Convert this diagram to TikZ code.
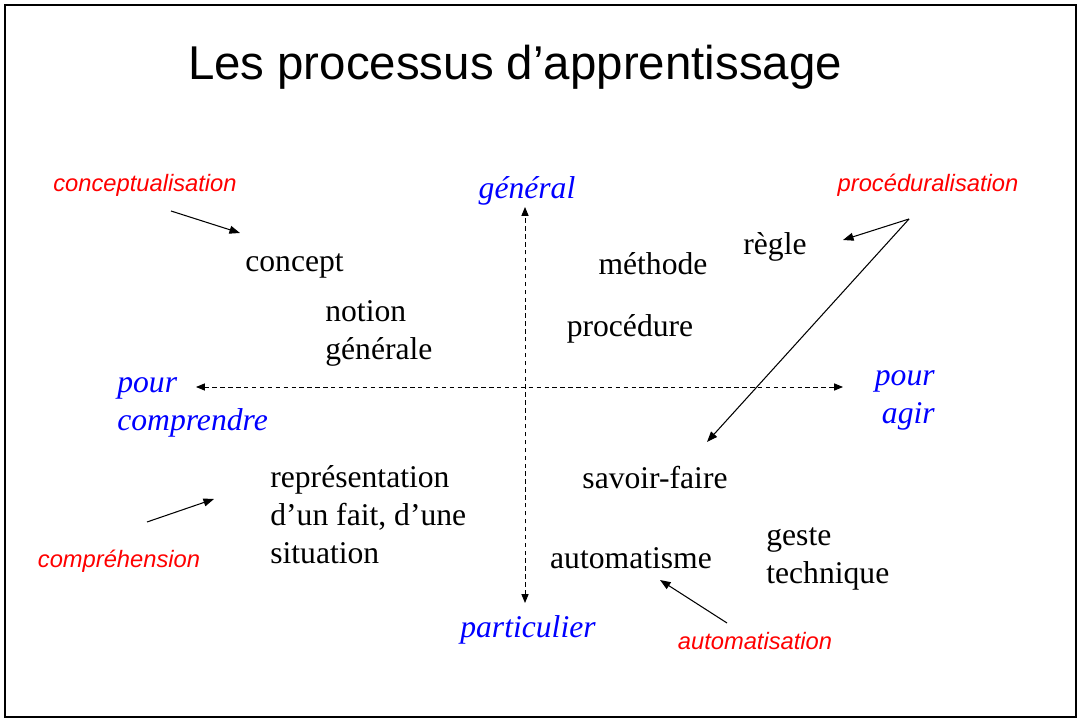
\documentclass[tikz,border=0pt]{standalone}
\usepackage{fontspec}
\setmainfont{Liberation Serif}
\setsansfont{Liberation Sans}
\usetikzlibrary{arrows.meta, positioning}

\begin{document}
\begin{tikzpicture}[
  x=0.02cm, y=-0.02cm,
  term/.style={font=\fontsize{18}{21.6}\selectfont, inner sep=0pt, align=left},
  pole/.style={font=\fontsize{18}{21.6}\selectfont\itshape, text=blue, inner sep=0pt},
  process/.style={font=\sffamily\itshape\fontsize{13.5}{16}\selectfont, text=red, inner sep=0pt},
  axis/.style={{Triangle[length=5pt,width=4pt]}-{Triangle[length=5pt,width=4pt]}, line width=0.5pt, dash pattern=on 2.5pt off 2pt},
  vector/.style={-{Triangle[length=6pt,width=4.5pt]}, line width=0.6pt}
]
\useasboundingbox (0,0) rectangle (1081,722);
\draw[line width=1.2pt] (5,5) rectangle (1076,717);

% Title
\node[font=\sffamily\fontsize{27}{32}\selectfont] (title) at (515,67) {Les processus d’apprentissage};

% Axes
\coordinate (top) at (525,207);
\coordinate (bottom) at (525,603);
\coordinate (left) at (196,387);
\coordinate (right) at (843,387);
\draw[axis] (bottom) -- (top);
\draw[axis] (left) -- (right);

\node[pole] (gen) at (527,191) {général};
\node[pole] (part) at (528,630) {particulier};
\node[pole, align=left, anchor=west] (compr) at (117,407) {pour\\comprendre};
\node[pole, align=right, anchor=east] (agir) at (935,400) {pour\\agir};

% Terms
\node[term, anchor=west] (concept) at (245,266) {concept};
\node[term, anchor=west] (notion) at (325,333) {notion\\générale};
\node[term] (methode) at (653,264) {méthode};
\node[term] (regle) at (775,247) {règle};
\node[term] (procedure) at (630,329) {procédure};
\node[term, anchor=west] (repr) at (270,515) {représentation\\d’un fait, d’une\\situation};
\node[term] (savoir) at (655,478) {savoir-faire};
\node[term] (autom) at (631,558) {automatisme};
\node[term, anchor=west] (geste) at (766,559) {geste\\technique};

% Processes
\node[process] (conc) at (145,185) {conceptualisation};
\node[process] (proc) at (928,185) {procéduralisation};
\node[process] (compreh) at (119,561) {compréhension};
\node[process] (automat) at (755,641) {automatisation};

% Flow
\coordinate (c1) at (171,211);
\coordinate (c2) at (240,233);
\coordinate (p0) at (909,219);
\coordinate (p1) at (843,240);
\coordinate (p2) at (707,442);
\coordinate (h1) at (147,522);
\coordinate (h2) at (214,499);
\coordinate (a1) at (727,623);
\coordinate (a2) at (660,580);
\draw[vector] (c1) -- (c2);
\draw[vector] (p0) -- (p1);
\draw[vector] (p0) -- (p2);
\draw[vector] (h1) -- (h2);
\draw[vector] (a1) -- (a2);
\end{tikzpicture}
\end{document}
